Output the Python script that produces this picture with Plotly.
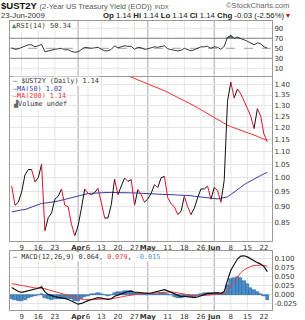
import plotly.graph_objects as go

# ---------------- data ----------------
mar_days = [4, 5, 6, 9, 10, 11, 12, 13, 16, 17, 18, 19, 20, 23, 24, 25, 26, 27, 30, 31]
apr_days = [1, 2, 3, 6, 7, 8, 9, 13, 14, 15, 16, 17, 20, 21, 22, 23, 24, 27, 28, 29, 30]
may_days = [1, 4, 5, 6, 7, 8, 11, 12, 13, 14, 15, 18, 19, 20, 21, 22, 26, 27, 28, 29]
jun_days = [1, 2, 3, 4, 5, 8, 9, 10, 11, 12, 15, 16, 17, 18, 19, 22, 23]
dates = ([f"2009-03-{d:02d}" for d in mar_days] + [f"2009-04-{d:02d}" for d in apr_days]
         + [f"2009-05-{d:02d}" for d in may_days] + [f"2009-06-{d:02d}" for d in jun_days])

close = [0.97, 0.905, 0.915, 0.95, 1.01, 1.03, 1.03, 0.985, 1.00, 1.05,
         0.825, 0.865, 0.88, 0.925, 0.935, 0.96, 0.905, 0.90, 0.845, 0.81,
         0.84, 0.895, 0.96, 0.945, 0.94, 0.948, 0.962, 0.913, 0.864, 0.864,
         0.907, 0.995, 0.94, 0.97, 0.999, 0.987, 0.993, 0.905, 0.958, 0.94,
         0.915, 0.926, 0.945, 0.975, 0.965, 1.00, 1.005, 0.93, 0.91, 0.90,
         0.875, 0.885, 0.935, 0.90, 0.875, 0.895, 0.93, 0.96, 0.96, 0.97,
         0.925, 0.965, 0.955, 0.915, 0.99, 1.32, 1.415, 1.335, 1.38, 1.355,
         1.32, 1.285, 1.25, 1.195, 1.285, 1.25, 1.17, 1.14]

ma50 = [0.883, 0.886, 0.889, 0.890, 0.891, 0.895, 0.900, 0.905, 0.909, 0.911,
        0.912, 0.913, 0.915, 0.917, 0.919, 0.922, 0.924, 0.927, 0.929, 0.932,
        0.936, 0.940, 0.942, 0.944, 0.945, 0.946, 0.947, 0.947, 0.948, 0.948,
        0.948, 0.948, 0.948, 0.948, 0.948, 0.947, 0.947, 0.946, 0.946, 0.945,
        0.945, 0.944, 0.944, 0.943, 0.942, 0.942, 0.941, 0.941, 0.940, 0.940,
        0.939, 0.939, 0.938, 0.938, 0.937, 0.935, 0.934, 0.932, 0.931, 0.929,
        0.928, 0.927, 0.926, 0.928, 0.930, 0.933, 0.941, 0.950, 0.958, 0.967,
        0.975, 0.982, 0.989, 0.995, 1.001, 1.008, 1.014, 1.020]

ma200_start = 34
ma200 = [1.455, 1.448, 1.441, 1.434, 1.427, 1.420, 1.413, 1.405, 1.398, 1.391,
         1.384, 1.377, 1.371, 1.363, 1.355, 1.347, 1.339, 1.332, 1.324, 1.315,
         1.306, 1.298, 1.289, 1.280, 1.271, 1.262, 1.253, 1.244, 1.235, 1.226,
         1.217, 1.210, 1.204, 1.199, 1.194, 1.189, 1.184, 1.179, 1.174, 1.168,
         1.162, 1.156, 1.150, 1.144]

rsi = [51, 48, 49, 52, 55, 57, 57, 53, 55, 58,
       43, 45, 46, 48, 49, 50, 47, 47, 44, 42,
       43, 47, 52, 51, 50, 51, 52, 48, 45, 45,
       48, 55, 51, 53, 55, 54, 54, 48, 52, 51,
       48, 49, 51, 53, 52, 54, 55, 49, 47, 46,
       45, 46, 50, 47, 45, 47, 50, 53, 53, 54,
       50, 53, 52, 48, 54, 72, 76, 70, 72, 70,
       67, 64, 61, 57, 61, 59, 53, 50.34]

macd = [0.020, 0.014, 0.009, 0.007, 0.009, 0.012, 0.015, 0.016, 0.018, 0.022,
        0.008, 0.001, -0.003, -0.005, -0.007, -0.008, -0.010, -0.013, -0.017, -0.023,
        -0.026, -0.024, -0.019, -0.016, -0.013, -0.010, -0.008, -0.009, -0.012, -0.013,
        -0.011, -0.004, -0.001, 0.003, 0.007, 0.009, 0.010, 0.007, 0.007, 0.006,
        0.004, 0.004, 0.005, 0.007, 0.009, 0.012, 0.014, 0.011, 0.007, 0.002,
        -0.003, -0.005, -0.004, -0.005, -0.008, -0.008, -0.006, -0.002, 0.002, 0.004,
        0.004, 0.006, 0.006, 0.004, 0.009, 0.040, 0.068, 0.084, 0.099, 0.107,
        0.108, 0.105, 0.099, 0.093, 0.089, 0.085, 0.078, 0.064]

signal = [0.031, 0.029, 0.027, 0.025, 0.023, 0.021, 0.020, 0.019, 0.019, 0.019,
          0.017, 0.014, 0.011, 0.008, 0.006, 0.003, 0.001, -0.001, -0.004, -0.007,
          -0.010, -0.012, -0.013, -0.014, -0.014, -0.013, -0.012, -0.011, -0.011, -0.011,
          -0.011, -0.010, -0.008, -0.006, -0.004, -0.002, 0.000, 0.001, 0.002, 0.003,
          0.003, 0.004, 0.004, 0.005, 0.006, 0.007, 0.008, 0.009, 0.008, 0.007,
          0.005, 0.003, 0.002, 0.000, -0.001, -0.003, -0.003, -0.003, -0.002, -0.001,
          0.000, 0.001, 0.002, 0.003, 0.004, 0.012, 0.024, 0.037, 0.050, 0.061,
          0.069, 0.075, 0.079, 0.081, 0.082, 0.082, 0.081, 0.079]

hist = [-0.011, -0.015, -0.018, -0.018, -0.014, -0.009, -0.005, -0.003, -0.001, 0.003,
        -0.009, -0.013, -0.014, -0.013, -0.013, -0.011, -0.011, -0.012, -0.013, -0.016,
        -0.016, -0.012, -0.006, -0.002, 0.001, 0.003, 0.004, 0.002, -0.001, -0.002,
        0.000, 0.006, 0.007, 0.009, 0.011, 0.011, 0.010, 0.006, 0.005, 0.003,
        0.001, 0.000, 0.001, 0.002, 0.003, 0.005, 0.006, 0.002, -0.001, -0.005,
        -0.008, -0.008, -0.006, -0.005, -0.007, -0.005, -0.003, 0.001, 0.004, 0.005,
        0.004, 0.005, 0.004, 0.001, 0.005, 0.028, 0.044, 0.047, 0.049, 0.046,
        0.039, 0.030, 0.020, 0.012, 0.007, 0.003, -0.003, -0.015]

tick_dates = ["2009-03-09", "2009-03-16", "2009-03-23", "2009-04-01", "2009-04-06",
              "2009-04-13", "2009-04-20", "2009-04-27", "2009-05-01", "2009-05-11",
              "2009-05-18", "2009-05-26", "2009-06-01", "2009-06-08", "2009-06-15",
              "2009-06-22"]
tick_labels = ["9", "16", "23", "Apr", "6", "13", "20", "27", "May", "11", "18", "26",
               "Jun", "8", "15", "22"]
month_labels = {"Apr", "May", "Jun"}

price_ticks = [0.85, 0.90, 0.95, 1.00, 1.05, 1.10, 1.15, 1.20, 1.25, 1.30, 1.35, 1.40]
rsi_ticks = [10, 30, 50, 70, 90]
macd_ticks = [-0.025, 0.0, 0.025, 0.05, 0.075, 0.100]

# ---------------- geometry ----------------
W, H = 305, 320
def PY(p):
    return 1 - p / H
def PX(p):
    return p / W

idx = list(range(len(dates)))
tick_idx = [dates.index(d) for d in tick_dates]
tick_text = [f"<b>{t}</b>" if t in month_labels else t for t in tick_labels]

FONT = "DejaVu Sans"
MONO = "DejaVu Sans Mono"
HEAD = "Liberation Sans"

fig = go.Figure()

# ---- RSI panel (y) ----
base70 = [70] * len(rsi)
fig.add_trace(go.Scatter(x=idx, y=base70, mode="lines", line=dict(width=0),
                         xaxis="x", yaxis="y", hoverinfo="skip", showlegend=False))
fig.add_trace(go.Scatter(x=idx, y=[max(v, 70) for v in rsi], mode="lines",
                         line=dict(width=0), fill="tonexty", fillcolor="#4f7f5a",
                         xaxis="x", yaxis="y", hoverinfo="skip", showlegend=False))
fig.add_trace(go.Scatter(x=idx, y=rsi, mode="lines", line=dict(color="#222222", width=0.9),
                         xaxis="x", yaxis="y", showlegend=False))

# ---- main panel (y2) ----
fig.add_trace(go.Scatter(x=idx[ma200_start:], y=ma200, mode="lines",
                         line=dict(color="#f03030", width=1), xaxis="x2", yaxis="y2",
                         showlegend=False))
fig.add_trace(go.Scatter(x=idx, y=ma50, mode="lines", line=dict(color="#3a3aa8", width=1),
                         xaxis="x2", yaxis="y2", showlegend=False))
ux, uy, dx, dy = [], [], [], []
for i in range(1, len(close)):
    if close[i] >= close[i - 1]:
        ux += [idx[i - 1], idx[i], None]
        uy += [close[i - 1], close[i], None]
    else:
        dx += [idx[i - 1], idx[i], None]
        dy += [close[i - 1], close[i], None]
fig.add_trace(go.Scatter(x=ux, y=uy, mode="lines", line=dict(color="#111111", width=1),
                         xaxis="x2", yaxis="y2", showlegend=False, connectgaps=False))
fig.add_trace(go.Scatter(x=dx, y=dy, mode="lines", line=dict(color="#e0102a", width=1),
                         xaxis="x2", yaxis="y2", showlegend=False, connectgaps=False))

# ---- MACD panel (y3) ----
fig.add_trace(go.Bar(x=idx, y=hist, marker=dict(color="#4a8fc8", line=dict(color="#1d5a98", width=0.5)),
                     xaxis="x3", yaxis="y3", showlegend=False))
fig.add_trace(go.Scatter(x=idx, y=signal, mode="lines", line=dict(color="#f03a3a", width=1),
                         xaxis="x3", yaxis="y3", showlegend=False))
fig.add_trace(go.Scatter(x=idx, y=macd, mode="lines", line=dict(color="#111111", width=1.2),
                         xaxis="x3", yaxis="y3", showlegend=False))

# ---------------- axes ----------------
xrange = [-0.51, 78.4]
xdom = [PX(10), PX(272)]
dom_rsi = [PY(75.5), PY(21)]
dom_main = [PY(241), PY(76.5)]
dom_macd = [PY(310), PY(251)]
axcol = "#9a9a9a"
gridcol = "#e4e4e4"
tickfont = dict(family=FONT, size=7, color="#333333")

common_x = dict(range=xrange, domain=xdom, showgrid=False, zeroline=False, showline=True,
                linecolor=axcol, linewidth=1, mirror=True, ticks="", tickvals=tick_idx,
                ticktext=tick_text, tickfont=tickfont, tickangle=0, fixedrange=True)
fig.update_layout(
    xaxis=dict(common_x, anchor="y", showticklabels=False),
    xaxis2=dict(common_x, anchor="y2", matches="x", showticklabels=True),
    xaxis3=dict(common_x, anchor="y3", matches="x", showticklabels=True),
    yaxis=dict(domain=dom_rsi, range=[-4.4, 104.6], side="right", tickvals=rsi_ticks,
               showgrid=False, zeroline=False, showline=True, linecolor=axcol, mirror=True,
               ticks="", tickfont=tickfont, anchor="x"),
    yaxis2=dict(domain=dom_main, type="log", range=[-0.0997, 0.1595], side="right",
                tickvals=price_ticks, ticktext=[f"{v:.2f}" for v in price_ticks],
                showgrid=True, gridcolor=gridcol, gridwidth=1, zeroline=False, showline=True,
                linecolor=axcol, mirror=True, ticks="", tickfont=tickfont, anchor="x2"),
    yaxis3=dict(domain=dom_macd, range=[-0.0421, 0.1213], side="right", tickvals=macd_ticks,
                ticktext=[f"{v:.3f}" for v in macd_ticks], showgrid=True, gridcolor=gridcol,
                zeroline=False, showline=True, linecolor=axcol, mirror=True, ticks="",
                tickfont=tickfont, anchor="x3"),
    bargap=0,
)

# ---------------- grid shapes ----------------
shapes = []
for xr, yr in (("x", "y domain"), ("x2", "y2 domain"), ("x3", "y3 domain")):
    for t, lab in zip(tick_idx, tick_labels):
        col = "#a8a8a8" if lab in month_labels else gridcol
        shapes.append(dict(type="line", xref=xr, yref=yr, x0=t, x1=t, y0=0, y1=1,
                           line=dict(color=col, width=1), layer="below"))
for v in rsi_ticks:
    if v in (30, 70):
        ln = dict(color="#808080", width=1)
    elif v == 50:
        ln = dict(color="#a0a0a0", width=1, dash="dash")
    else:
        ln = dict(color=gridcol, width=1)
    shapes.append(dict(type="line", xref="x domain", yref="y", x0=0, x1=1, y0=v, y1=v,
                       line=ln, layer="below"))
fig.update_layout(shapes=shapes)

# ---------------- texts ----------------
ann = []
def text(x, y, s, size=7, color="#333333", family=FONT, anchor="left", bg=None):
    d = dict(x=PX(x), y=PY(y), xref="paper", yref="paper", text=s, showarrow=False,
             xanchor=anchor, yanchor="middle", font=dict(family=family, size=size, color=color),
             borderpad=0)
    if bg:
        d["bgcolor"] = bg
    ann.append(d)

text(0, 5.5, "<b>$UST2Y</b> <span style='font-size:7.5px;color:#555'>(2-Year US Treasury Yield (EOD))</span>"
     " <span style='font-size:6px;color:#555'>INDX</span>", size=9.5, color="#111111", family=HEAD)
text(290, 5.5, "©StockCharts.com", size=7.6, color="#666666", family=HEAD, anchor="right")
text(0, 15, "23-Jun-2009", size=7.8, color="#333333", family=HEAD)
text(291, 15, "<b>Op</b> 1.14 <b>Hi</b> 1.14 <b>Lo</b> 1.14 <b>Cl</b> 1.14 <b>Chg</b> -0.03 (-2.56%) "
     "<span style='color:#d01010'>▾</span>", size=7.8, color="#222222", family=HEAD, anchor="right")

text(11, 25.5, "<span style='color:#4f7f5a'>▲</span>RSI(14) 50.34", size=7, color="#444444",
     family=MONO, bg="white")

text(12, 81.5, "<span style='color:#111'>—</span> $UST2Y (Daily) 1.14", size=6.8, color="#333333",
     family=MONO, bg="white")
text(12, 88.8, "<span style='color:#3a3aa8'>—</span>MA(50) 1.02", size=6.8, color="#3a3aa8",
     family=MONO, bg="white")
text(12, 96.1, "<span style='color:#f03030'>—</span>MA(200) 1.14", size=6.8, color="#f03030",
     family=MONO, bg="white")
text(12, 103.4, "<span style='color:#666'>▟</span>Volume undef", size=6.8, color="#333333",
     family=MONO, bg="white")

text(12, 256.5, "<span style='color:#111'>—</span> MACD(12,26,9) 0.064, <span style='color:#f03a3a'>0.079</span>,"
     " <span style='color:#4a8fc8'>-0.015</span>", size=6.8, color="#333333", family=MONO, bg="white")

fig.update_layout(annotations=ann, width=W, height=H, margin=dict(l=0, r=0, t=0, b=0),
                  paper_bgcolor="white", plot_bgcolor="white", showlegend=False)

fig.write_html("out.html")
